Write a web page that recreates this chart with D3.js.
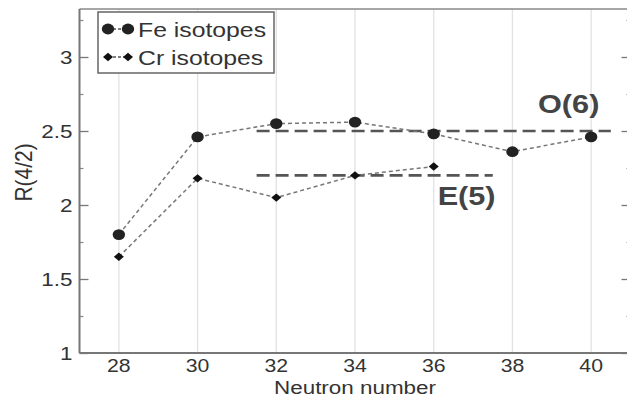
<!DOCTYPE html>
<html><head><meta charset="utf-8">
<script src="https://cdn.jsdelivr.net/npm/d3@7"></script>
<style>body{margin:0;background:#fff}svg{display:block}text{font-family:"Liberation Sans",Arial,sans-serif}</style>
</head><body>
<svg id="c" width="627" height="400"></svg>
<script>
const neutrons = [28, 30, 32, 34, 36, 38, 40];
const feValues = [1.80, 2.46, 2.55, 2.56, 2.48, 2.36, 2.46];
const crNeutrons = [28, 30, 32, 34, 36];
const crValues = [1.65, 2.18, 2.05, 2.20, 2.26];
const yTicks = [1, 1.5, 2, 2.5, 3];
const yMinorTicks = [1.25, 1.75, 2.25, 2.75, 3.25];
const refLines = [
  {name: "O(6)", value: 2.5, from: 31.5, to: 40.5, lx: 38.65, ly: 2.62},
  {name: "E(5)", value: 2.2, from: 31.5, to: 37.5, lx: 36.1, ly: 2.0}
];
const legendItems = ["Fe isotopes", "Cr isotopes"];

const SX = 1.18; // horizontal stretch of reference glyphs
const svg = d3.select("#c");
const L = 79.5, R = 630.5, T = 9, B = 353;
const x = d3.scaleLinear().domain([27, 41]).range([L, R]);
const y = d3.scaleLinear().domain([1, 3.3243]).range([B, T]);

function txt(g, px, py, s, size, opts = {}) {
  return g.append("text")
    .attr("transform", `translate(${px},${py}) scale(${SX},1)`)
    .attr("font-size", size)
    .attr("text-anchor", opts.anchor || "start")
    .attr("font-weight", opts.weight || "normal")
    .attr("fill", opts.fill || "#333")
    .text(s);
}

// gridlines
svg.append("g").selectAll("line").data(neutrons).join("line")
  .attr("x1", d => x(d)).attr("x2", d => x(d)).attr("y1", T).attr("y2", B)
  .attr("stroke", "#e2e2e2").attr("stroke-width", 1.3);

// frame
svg.append("line").attr("x1", L).attr("x2", R).attr("y1", T).attr("y2", T).attr("stroke", "#888").attr("stroke-width", 1.5);
svg.append("line").attr("x1", R).attr("x2", R).attr("y1", T).attr("y2", B).attr("stroke", "#888").attr("stroke-width", 1.5);

// left axis (ticks inward)
const gL = svg.append("g").attr("transform", `translate(${L},0)`)
  .call(d3.axisRight(y).tickValues(yTicks).tickSize(9).tickFormat(""));
gL.select(".domain").remove();
gL.selectAll("line").attr("stroke", "#777").attr("stroke-width", 1.3);
svg.append("g").attr("transform", `translate(${L},0)`)
  .call(d3.axisRight(y).tickValues(yMinorTicks).tickSize(4).tickFormat(""))
  .call(g => { g.select(".domain").remove(); g.selectAll("line").attr("stroke", "#888").attr("stroke-width", 1.2); });
svg.append("line").attr("x1", L).attr("x2", L).attr("y1", T).attr("y2", B).attr("stroke", "#777").attr("stroke-width", 2);
// right axis ticks inward
svg.append("g").attr("transform", `translate(${R},0)`)
  .call(d3.axisLeft(y).tickValues(yTicks).tickSize(9).tickFormat(""))
  .call(g => { g.select(".domain").remove(); g.selectAll("line").attr("stroke", "#777").attr("stroke-width", 1.3); });
svg.append("g").attr("transform", `translate(${R},0)`)
  .call(d3.axisLeft(y).tickValues(yMinorTicks).tickSize(4).tickFormat(""))
  .call(g => { g.select(".domain").remove(); g.selectAll("line").attr("stroke", "#888").attr("stroke-width", 1.2); });

// y tick labels
const gy = svg.append("g");
yTicks.forEach(v => txt(gy, L - 7, y(v) + 7, d3.format("")(v), 19, {anchor: "end"}));
// bottom axis
svg.append("line").attr("x1", L).attr("x2", R).attr("y1", B).attr("y2", B).attr("stroke", "#777").attr("stroke-width", 2);
const gx = svg.append("g");
neutrons.forEach(v => txt(gx, x(v), B + 19, String(v), 18, {anchor: "middle"}));

// axis titles
txt(svg, x(34), 394, "Neutron number", 19, {anchor: "middle"});
svg.append("text").attr("transform", `translate(32,${y(2.22)}) rotate(-90) scale(1,${SX})`)
  .attr("font-size", 21).attr("text-anchor", "middle").attr("fill", "#333").text("R(4/2)");

// reference lines
refLines.forEach(r => {
  svg.append("line").attr("x1", x(r.from)).attr("x2", x(r.to)).attr("y1", y(r.value)).attr("y2", y(r.value))
    .attr("stroke", "#555").attr("stroke-width", 2.6).attr("stroke-dasharray", "13,6");
  txt(svg, x(r.lx), y(r.ly), r.name, 26, {weight: "bold", fill: "#444"});
});

// series lines
const lineGen = d3.line().x(d => x(d[0])).y(d => y(d[1]));
const feData = neutrons.map((n, i) => [n, feValues[i]]);
const crData = crNeutrons.map((n, i) => [n, crValues[i]]);
[feData, crData].forEach(data => {
  svg.append("path").attr("d", lineGen(data)).attr("fill", "none")
    .attr("stroke", "#777").attr("stroke-width", 1.5).attr("stroke-dasharray", "4,3");
});
svg.append("g").selectAll("ellipse").data(feData).join("ellipse")
  .attr("cx", d => x(d[0])).attr("cy", d => y(d[1])).attr("rx", 6.2).attr("ry", 5.4).attr("fill", "#222");
const diamond = (cx, cy) => `M${cx},${cy - 4.2}L${cx + 5},${cy}L${cx},${cy + 4.2}L${cx - 5},${cy}Z`;
svg.append("g").selectAll("path").data(crData).join("path")
  .attr("d", d => diamond(x(d[0]), y(d[1]))).attr("fill", "#111");

// legend
const lg = svg.append("g").attr("transform", "translate(98,12)");
lg.append("rect").attr("width", 176).attr("height", 61).attr("fill", "#fff").attr("stroke", "#666").attr("stroke-width", 1.5);
legendItems.forEach((name, i) => {
  const cy = 17 + i * 28;
  lg.append("line").attr("x1", 10).attr("x2", 30).attr("y1", cy).attr("y2", cy)
    .attr("stroke", "#555").attr("stroke-width", 1.5).attr("stroke-dasharray", "3,2");
  if (i === 0) {
    [10, 30].forEach(px => lg.append("ellipse").attr("cx", px).attr("cy", cy).attr("rx", 6.2).attr("ry", 5.4).attr("fill", "#222"));
  } else {
    [10, 30].forEach(px => lg.append("path").attr("d", diamond(px, cy)).attr("fill", "#111"));
  }
  txt(lg, 40, cy + 8, name, 21, {fill: "#333"});
});
</script>
</body></html>
